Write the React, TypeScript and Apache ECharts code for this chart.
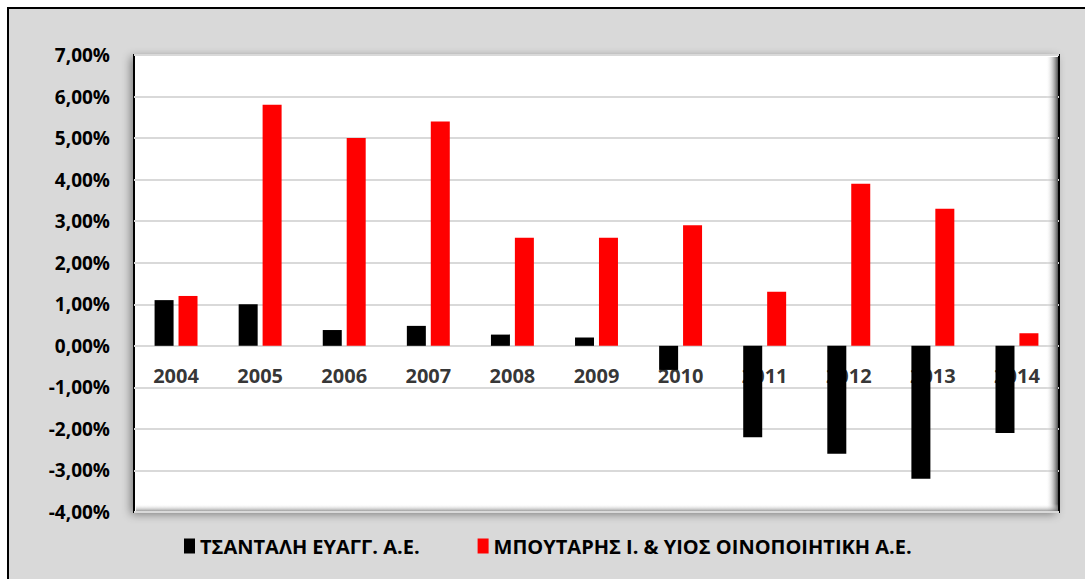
import React, { useEffect, useRef } from "react";
import * as echarts from "echarts";

const categories = ["2004", "2005", "2006", "2007", "2008", "2009", "2010", "2011", "2012", "2013", "2014"];
const seriesNames = ["ΤΣΑΝΤΑΛΗ ΕΥΑΓΓ. Α.Ε.", "ΜΠΟΥΤΑΡΗΣ Ι. & ΥΙΟΣ ΟΙΝΟΠΟΙΗΤΙΚΗ Α.Ε."];
const tsantali = [0.011, 0.010, 0.0038, 0.0048, 0.0027, 0.002, -0.0058, -0.022, -0.026, -0.032, -0.021];
const boutari = [0.012, 0.058, 0.050, 0.054, 0.026, 0.026, 0.029, 0.013, 0.039, 0.033, 0.003];

const FONT = "'Open Sans', 'Noto Sans', sans-serif";

export default function App() {
  const ref = useRef<HTMLDivElement>(null);
  useEffect(() => {
    document.body.style.margin = "0";
    const chart = echarts.init(ref.current!, null, { renderer: "svg" });
    const gl = 134, gt = 55, gr = 1059, gb = 512;
    chart.setOption({
      animation: false,
      backgroundColor: "#ffffff",
      textStyle: { fontFamily: FONT },
      graphic: [
        {
          type: "rect",
          z: -10,
          silent: true,
          shape: { x: 8, y: 8, width: 1100, height: 600 },
          style: { fill: "#d9d9d9", stroke: "#000", lineWidth: 2 },
        },
        {
          type: "rect",
          z: -5,
          silent: true,
          shape: { x: gl, y: gt, width: gr - gl, height: gb - gt },
          style: { fill: "#fff", shadowBlur: 10, shadowColor: "rgba(0,0,0,0.45)", shadowOffsetX: -3, shadowOffsetY: 2 },
        },
        {
          type: "rect",
          z: 1,
          silent: true,
          shape: { x: gr - 13, y: gt + 2, width: 12, height: gb - gt - 3 },
          style: {
            fill: new echarts.graphic.LinearGradient(0, 0, 1, 0, [
              { offset: 0, color: "rgba(255,255,255,0)" },
              { offset: 0.6, color: "rgba(150,150,150,0.6)" },
              { offset: 1, color: "rgba(60,60,60,0.9)" },
            ]),
          },
        },
        {
          type: "rect",
          z: 1,
          silent: true,
          shape: { x: gl + 2, y: gb - 8, width: gr - gl - 3, height: 7 },
          style: {
            fill: new echarts.graphic.LinearGradient(0, 0, 0, 1, [
              { offset: 0, color: "rgba(255,255,255,0)" },
              { offset: 1, color: "rgba(120,120,120,0.7)" },
            ]),
          },
        },
      ],
      grid: {
        left: gl,
        top: gt,
        right: 1085 - gr,
        bottom: 579 - gb,
        show: true,
        borderColor: "#000",
        borderWidth: 2,
        backgroundColor: "transparent",
      },
      legend: {
        left: 179,
        top: 531,
        icon: "rect",
        itemWidth: 11,
        itemHeight: 15,
        itemGap: 58,
        textStyle: { fontFamily: FONT, fontWeight: "bold", fontSize: 20, color: "#000" },
        data: seriesNames,
      },
      xAxis: {
        type: "category",
        data: categories,
        axisLine: { show: false },
        axisTick: { show: false },
        axisLabel: { show: false },
      },
      yAxis: {
        type: "value",
        min: -0.04,
        max: 0.07,
        interval: 0.01,
        axisLine: { show: false },
        axisTick: { show: false },
        splitLine: { lineStyle: { color: "#d9d9d9", width: 2 } },
        axisLabel: {
          margin: 24,
          fontFamily: FONT,
          fontWeight: "bold",
          fontSize: 19,
          color: "#000",
          formatter: (v: number) => {
            const p = Math.round(v * 10000) / 100;
            return (p === 0 ? 0 : p).toFixed(2).replace(".", ",") + "%";
          },
        },
      },
      series: [
        {
          name: "categoryLabels",
          type: "scatter",
          z: 1,
          silent: true,
          symbolSize: 1,
          itemStyle: { color: "rgba(0,0,0,0)" },
          data: categories.map((c) => [c, 0]),
          label: {
            show: true,
            position: "bottom",
            distance: 19,
            formatter: (p: any) => p.value[0],
            fontFamily: FONT,
            fontWeight: "bold",
            fontSize: 20,
            color: "#000",
          },
        },
        {
          name: seriesNames[0],
          type: "bar",
          z: 3,
          data: tsantali,
          barWidth: 19,
          barGap: "26%",
          itemStyle: { color: "#000000" },
        },
        {
          name: seriesNames[1],
          type: "bar",
          z: 3,
          data: boutari,
          barWidth: 19,
          barGap: "26%",
          itemStyle: { color: "#ff0000" },
        },
      ],
    });
    return () => chart.dispose();
  }, []);
  return <div ref={ref} style={{ width: 1085, height: 579 }} />;
}
